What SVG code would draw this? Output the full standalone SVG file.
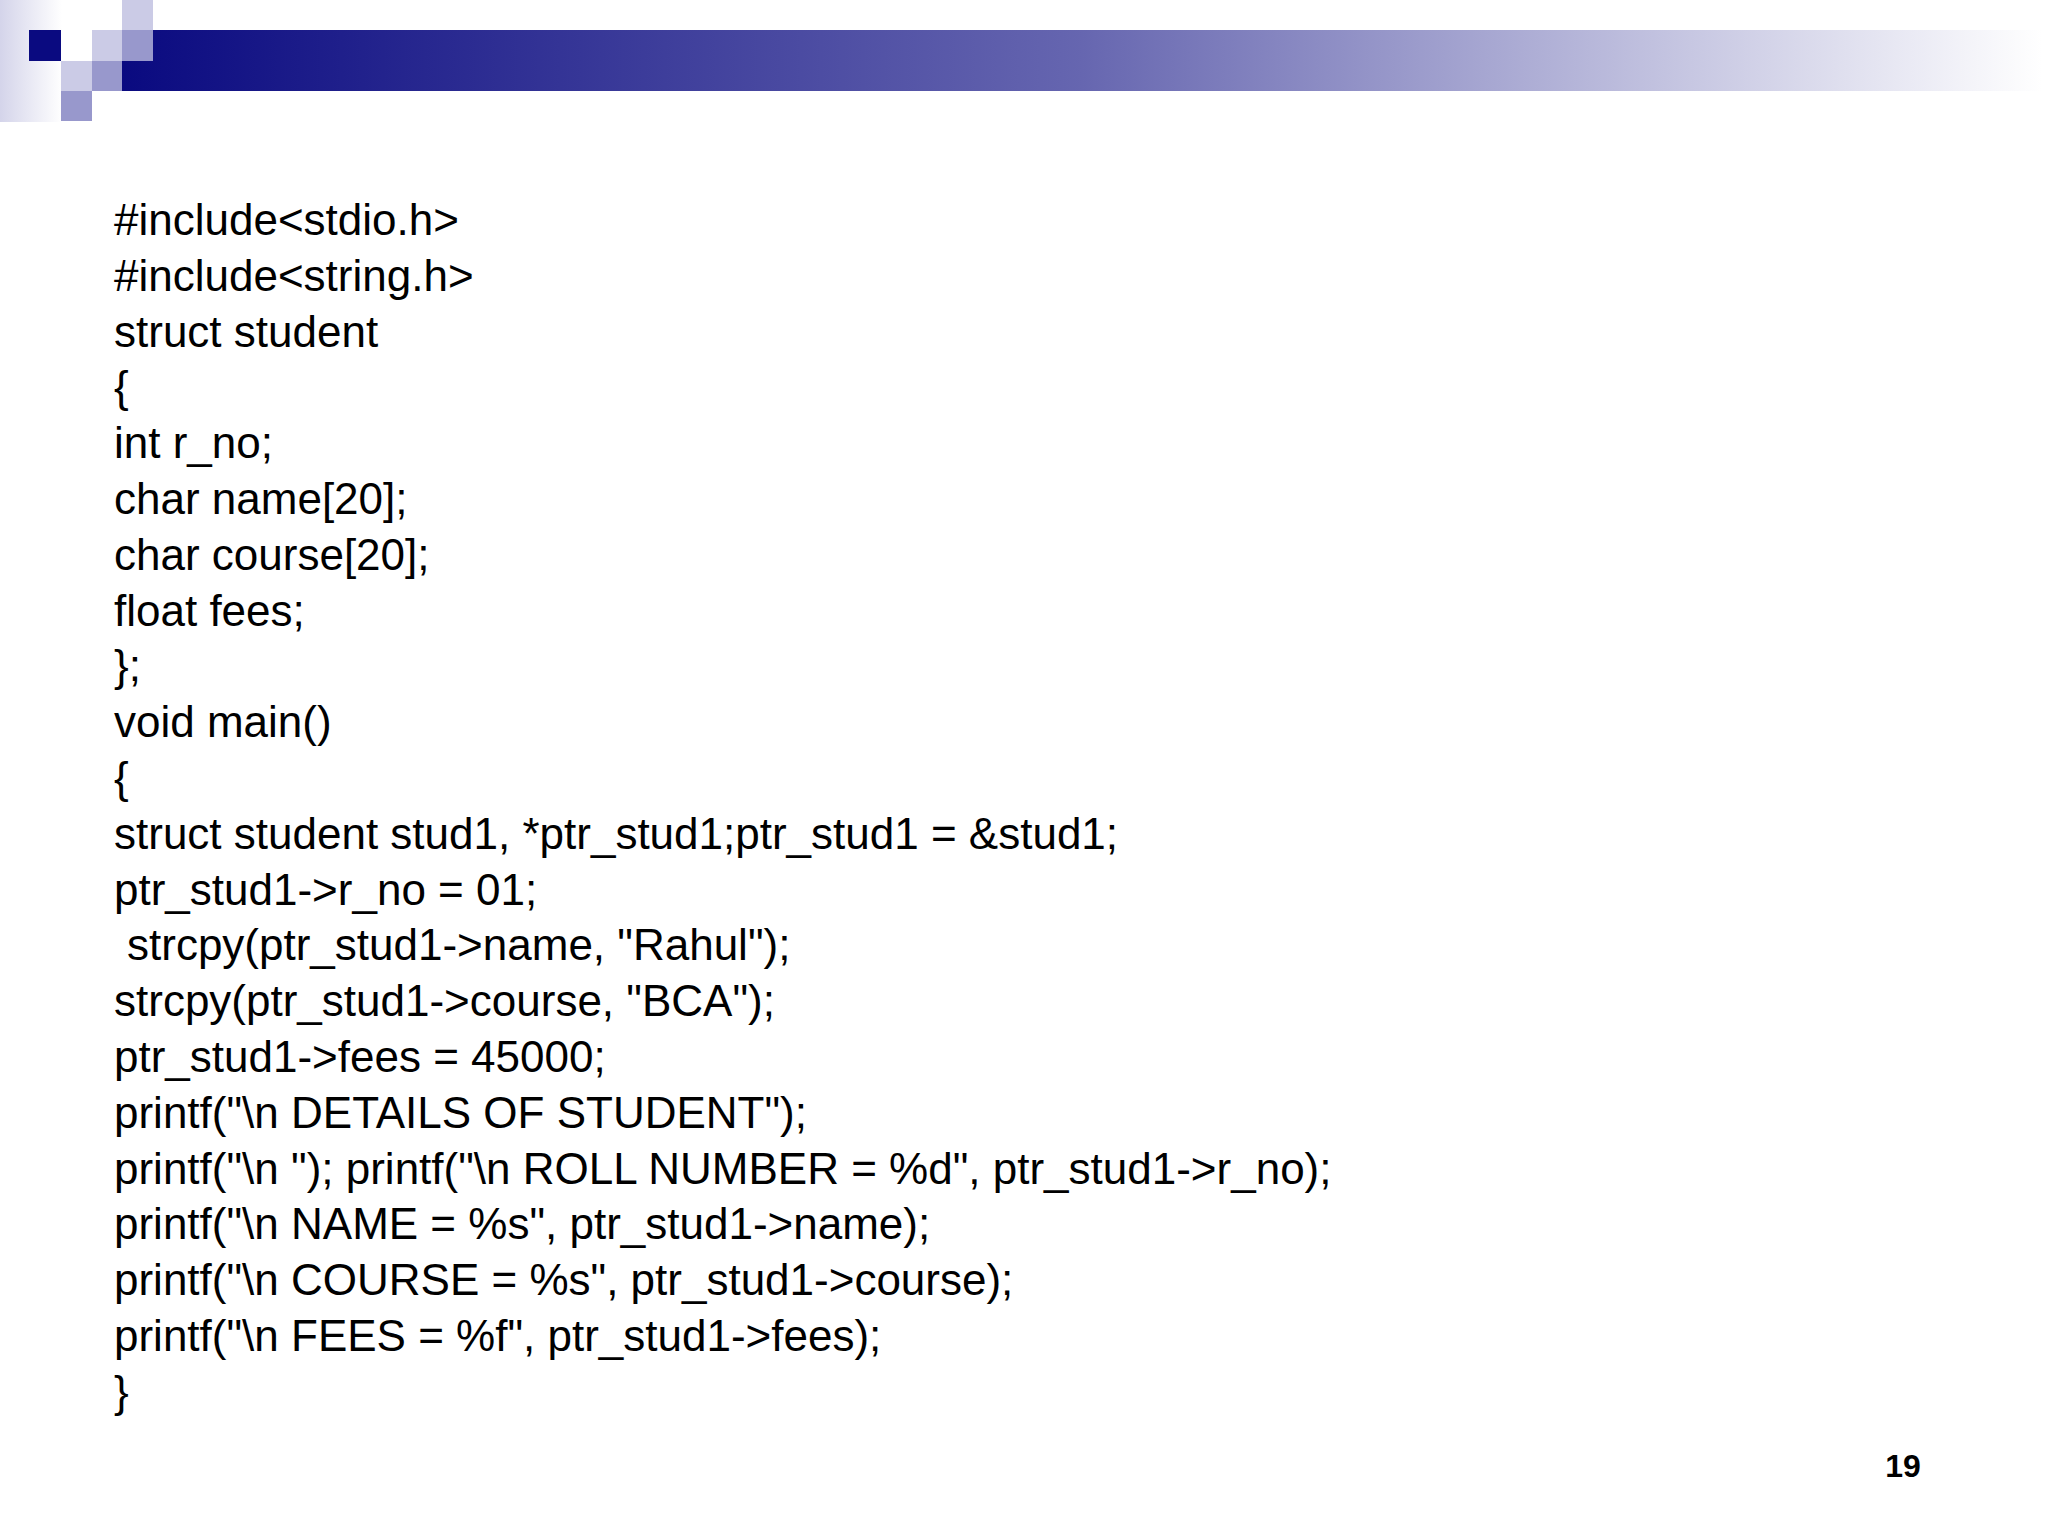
<svg xmlns="http://www.w3.org/2000/svg" width="2048" height="1536" viewBox="0 0 2048 1536">
<defs>
<linearGradient id="bar" x1="0" x2="1" y1="0" y2="0"><stop offset="0" stop-color="#0a0a80"/><stop offset="0.5" stop-color="#6666b0"/><stop offset="1" stop-color="#ffffff"/></linearGradient>
<linearGradient id="side" x1="0" x2="1" y1="0" y2="0"><stop offset="0" stop-color="#d4d4ea"/><stop offset="1" stop-color="#ffffff"/></linearGradient>
<style>.c{font-family:"Liberation Sans",Arial,sans-serif;font-size:44px;fill:#000}.l{fill:#cbcbe6}.m{fill:#9898cc}</style>
</defs>
<rect width="2048" height="1536" fill="#fff"/>
<g id="header">
<rect x="0" y="0" width="62" height="122" fill="url(#side)"/>
<rect x="122" y="30" width="1920" height="61" fill="url(#bar)"/>
<rect x="29" y="30" width="32" height="31" fill="#0a0a80"/>
<rect class="l" x="92" y="30" width="30" height="31"/>
<rect class="m" x="122" y="30" width="31" height="31"/>
<rect class="l" x="122" y="0" width="31" height="30"/>
<rect class="l" x="61" y="61" width="31" height="30"/>
<rect class="m" x="92" y="61" width="30" height="30"/>
<rect class="m" x="61" y="91" width="31" height="30"/>
</g>
<g id="code" class="c">
<text x="114" y="235">#include&lt;stdio.h&gt;</text>
<text x="114" y="291">#include&lt;string.h&gt;</text>
<text x="114" y="347">struct student</text>
<text x="114" y="402">{</text>
<text x="114" y="458">int r_no;</text>
<text x="114" y="514">char name[20];</text>
<text x="114" y="570">char course[20];</text>
<text x="114" y="626">float fees;</text>
<text x="114" y="681">};</text>
<text x="114" y="737">void main()</text>
<text x="114" y="793">{</text>
<text x="114" y="849">struct student stud1, *ptr_stud1;ptr_stud1 = &amp;stud1;</text>
<text x="114" y="905">ptr_stud1-&gt;r_no = 01;</text>
<text x="127" y="960">strcpy(ptr_stud1-&gt;name, "Rahul");</text>
<text x="114" y="1016">strcpy(ptr_stud1-&gt;course, "BCA");</text>
<text x="114" y="1072">ptr_stud1-&gt;fees = 45000;</text>
<text x="114" y="1128">printf("\n DETAILS OF STUDENT");</text>
<text x="114" y="1184">printf("\n "); printf("\n ROLL NUMBER = %d", ptr_stud1-&gt;r_no);</text>
<text x="114" y="1239">printf("\n NAME = %s", ptr_stud1-&gt;name);</text>
<text x="114" y="1295">printf("\n COURSE = %s", ptr_stud1-&gt;course);</text>
<text x="114" y="1351">printf("\n FEES = %f", ptr_stud1-&gt;fees);</text>
<text x="114" y="1407">}</text>
</g>
<text id="pagenum" x="1903" y="1477" text-anchor="middle" style="font-family:'Liberation Sans',Arial,sans-serif;font-size:32px;font-weight:bold">19</text>
</svg>
